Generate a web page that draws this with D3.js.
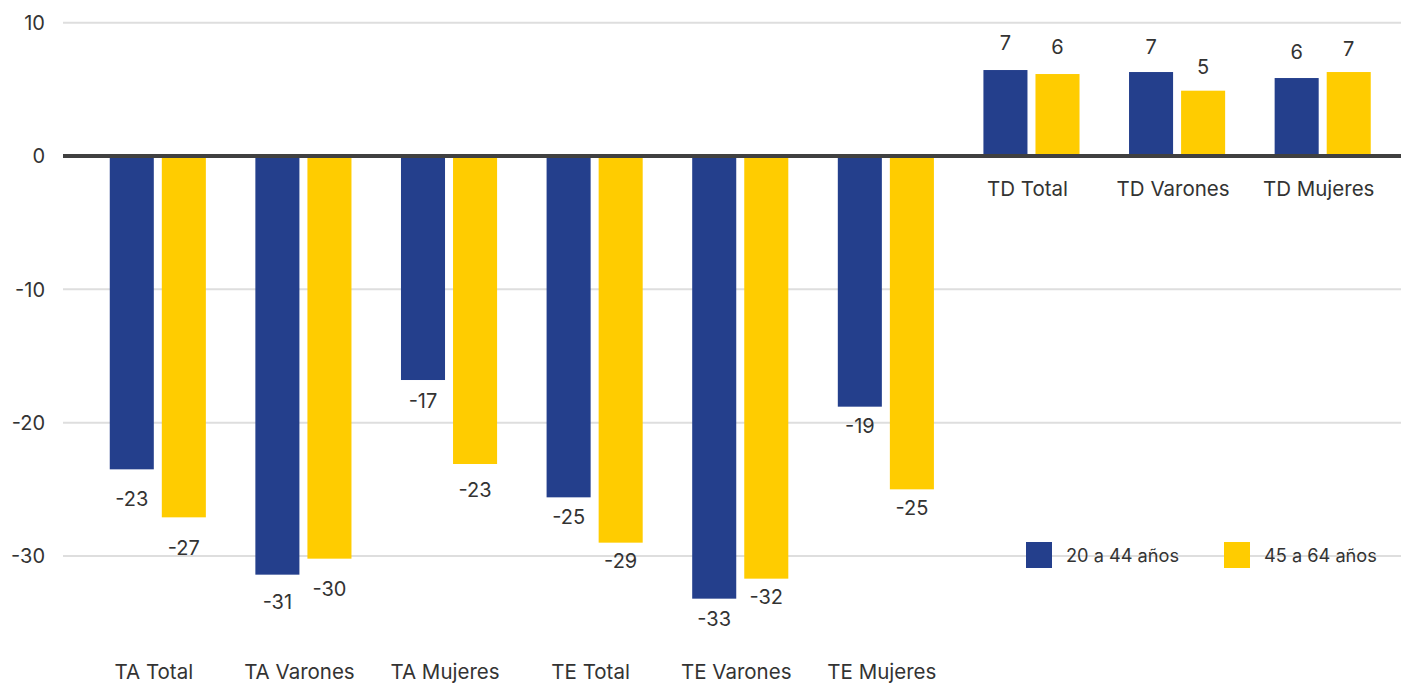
<!DOCTYPE html>
<html>
<head>
<meta charset="utf-8">
<script src="https://cdn.jsdelivr.net/npm/d3@7"></script>
<style>
  html, body { margin: 0; padding: 0; background: #fff; }
  svg { display: block; font-family: Inter, "Open Sans", sans-serif; }
</style>
</head>
<body>
<svg id="chart" width="1401" height="683"></svg>
<script>
const categories = ["TA Total", "TA Varones", "TA Mujeres", "TE Total", "TE Varones", "TE Mujeres", "TD Total", "TD Varones", "TD Mujeres"];
const seriesNames = ["20 a 44 años", "45 a 64 años"];
const values20a44 = [-23.5, -31.4, -16.8, -25.6, -33.2, -18.8, 6.45, 6.3, 5.85];
const values45a64 = [-27.1, -30.2, -23.1, -29.0, -31.7, -25.0, 6.15, 4.9, 6.3];
const labels20a44 = ["-23", "-31", "-17", "-25", "-33", "-19", "7", "7", "6"];
const labels45a64 = ["-27", "-30", "-23", "-29", "-32", "-25", "6", "5", "7"];
const yTicks = [10, 0, -10, -20, -30];
const colors = ["#243F8C", "#FFCC00"];

// layout: distance (px) between bar end and label centre, per bar
const labelGap20 = [29, 27, 21, 19, 20, 19, 27, 25, 26];
const labelGap45 = [30, 30, 26, 18, 18.5, 18, 27, 24, 23];

const svg = d3.select("#chart");
const plotLeft = 63, plotRight = 1401;

const y = d3.scaleLinear().domain([-30, 10]).range([556, 22.7]);
const x0 = d3.scaleBand().domain(categories).range([85, 1395.5]).paddingInner(0.34).paddingOuter(0.17);
const x1 = d3.scaleBand().domain(seriesNames).range([0, x0.bandwidth()]).paddingInner(8 / 52).paddingOuter(0);
const color = d3.scaleOrdinal().domain(seriesNames).range(colors);

// gridlines
svg.append("g").selectAll("line").data(yTicks.filter(d => d !== 0)).join("line")
  .attr("x1", plotLeft).attr("x2", plotRight)
  .attr("y1", d => y(d)).attr("y2", d => y(d))
  .attr("stroke", "#dedede").attr("stroke-width", 2);

// y tick labels
svg.append("g").selectAll("text").data(yTicks).join("text")
  .attr("x", 45).attr("y", d => y(d)).attr("dy", "0.36em")
  .attr("text-anchor", "end").attr("font-size", 20).attr("fill", "#333")
  .text(d => d3.format("d")(d).replace("\u2212", "-"));

const rows = categories.map((c, i) => ({
  cat: c,
  items: [
    { s: seriesNames[0], v: values20a44[i], lab: labels20a44[i], gap: labelGap20[i] },
    { s: seriesNames[1], v: values45a64[i], lab: labels45a64[i], gap: labelGap45[i] }
  ]
}));

const groups = svg.append("g").selectAll("g").data(rows).join("g")
  .attr("transform", d => `translate(${x0(d.cat)},0)`);

groups.selectAll("rect").data(d => d.items).join("rect")
  .attr("x", d => x1(d.s)).attr("width", x1.bandwidth())
  .attr("y", d => Math.min(y(d.v), y(0)))
  .attr("height", d => Math.abs(y(d.v) - y(0)))
  .attr("fill", d => color(d.s));

groups.selectAll("text.val").data(d => d.items).join("text")
  .attr("class", "val")
  .attr("x", d => x1(d.s) + x1.bandwidth() / 2)
  .attr("y", d => d.v < 0 ? y(d.v) + d.gap : y(d.v) - d.gap)
  .attr("dy", "0.36em")
  .attr("text-anchor", "middle").attr("font-size", 20).attr("fill", "#333")
  .text(d => d.lab);

// zero line
svg.append("line")
  .attr("x1", plotLeft).attr("x2", plotRight)
  .attr("y1", y(0)).attr("y2", y(0))
  .attr("stroke", "#404040").attr("stroke-width", 4);

// category labels
svg.append("g").selectAll("text").data(rows).join("text")
  .attr("x", d => x0(d.cat) + x0.bandwidth() / 2 - 4)
  .attr("y", d => d.items[0].v < 0 ? 671.5 : 188.5)
  .attr("dy", "0.36em")
  .attr("text-anchor", "middle").attr("font-size", 20.5).attr("fill", "#333")
  .text(d => d.cat);

// legend
const legendX = [1026, 1224];
const legend = svg.append("g").selectAll("g").data(seriesNames).join("g")
  .attr("transform", (d, i) => `translate(${legendX[i]},542)`);
legend.append("rect").attr("width", 26).attr("height", 26).attr("fill", d => color(d));
legend.append("text").attr("x", 40).attr("y", 13).attr("dy", "0.36em")
  .attr("font-size", 18.2).attr("fill", "#333").text(d => d);
</script>
</body>
</html>
